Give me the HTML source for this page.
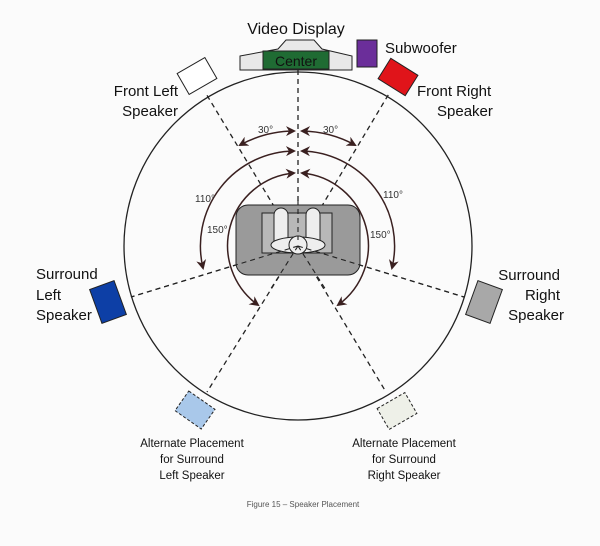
<!DOCTYPE html>
<html><head><meta charset="utf-8"><style>
body{margin:0;background:#fbfbfb;}
svg{display:block;font-family:"Liberation Sans",sans-serif;}
</style></head><body>
<svg width="600" height="546" viewBox="0 0 600 546" xmlns="http://www.w3.org/2000/svg">
<defs>
<marker id="ah" markerWidth="10" markerHeight="10" refX="8" refY="5" orient="auto" markerUnits="userSpaceOnUse"><path d="M0,0 L10,5 L0,10 L3,5 Z" fill="#3a2020"/></marker>
<marker id="as" markerWidth="10" markerHeight="10" refX="2" refY="5" orient="auto" markerUnits="userSpaceOnUse"><path d="M10,0 L0,5 L10,10 L7,5 Z" fill="#3a2020"/></marker>
</defs>
<rect width="600" height="546" fill="#fbfbfb"/>
<circle cx="298" cy="246" r="174" fill="none" stroke="#222" stroke-width="1.3"/>
<g stroke="#222" stroke-width="1.3" stroke-dasharray="5,4" fill="none">
<line x1="298" y1="246" x2="298" y2="70"/>
<line x1="298" y1="246" x2="205" y2="92"/>
<line x1="298" y1="246" x2="390" y2="92"/>
<line x1="298" y1="246" x2="131" y2="297"/>
<line x1="298" y1="246" x2="464" y2="297"/>
<line x1="298" y1="246" x2="207" y2="392"/>
<line x1="298" y1="246" x2="386" y2="392"/>
</g>
<rect x="236" y="205" width="124" height="70" rx="12" fill="#9a9a9a" stroke="#222" stroke-width="1"/>
<rect x="262" y="213" width="70" height="40" fill="#b8b8b8" stroke="#222" stroke-width="1"/>
<rect x="274" y="208" width="14" height="40" rx="7" fill="#eee" stroke="#222"/>
<rect x="306" y="208" width="14" height="40" rx="7" fill="#eee" stroke="#222"/>
<ellipse cx="298" cy="245" rx="27" ry="8" fill="#eee" stroke="#222"/>
<circle cx="298" cy="245" r="9" fill="#eee" stroke="#222"/>
<g stroke="#222" stroke-width="1.1" stroke-dasharray="5,4">
<line x1="298" y1="200" x2="298" y2="240"/>
<line x1="298" y1="246" x2="131" y2="297"/>
<line x1="298" y1="246" x2="464" y2="297"/>
<line x1="298" y1="246" x2="270" y2="290"/>
<line x1="298" y1="246" x2="326" y2="290"/>
</g>
<g fill="none" stroke="#3a2020" stroke-width="1.5">
<path d="M294,131 A115,115 0 0,0 240,145" marker-end="url(#ah)" marker-start="url(#as)"/>
<path d="M302,131 A115,115 0 0,1 355,145" marker-end="url(#ah)" marker-start="url(#as)"/>
<path d="M294,151 A95,95 0 0,0 203,268" marker-end="url(#ah)" marker-start="url(#as)"/>
<path d="M302,151 A95,95 0 0,1 392,268" marker-end="url(#ah)" marker-start="url(#as)"/>
<path d="M294,173 A73,73 0 0,0 258,305" marker-end="url(#ah)" marker-start="url(#as)"/>
<path d="M302,173 A73,73 0 0,1 338,305" marker-end="url(#ah)" marker-start="url(#as)"/>
</g>
<g font-size="10" fill="#333">
<text x="258" y="133">30°</text><text x="323" y="133">30°</text>
<text x="195" y="202">110°</text><text x="383" y="198">110°</text>
<text x="207" y="233">150°</text><text x="370" y="238">150°</text>
</g>
<path d="M240,56 L278,49 L286,40 L314,40 L322,49 L352,56 L352,70 L240,70 Z" fill="#e8e8e8" stroke="#222"/>
<rect x="263" y="51" width="66" height="18" fill="#1f6b33" stroke="#222"/>
<text x="296" y="66" font-size="14" text-anchor="middle" fill="#111">Center</text>
<text x="296" y="34" font-size="16" text-anchor="middle" fill="#111">Video Display</text>
<rect x="357" y="40" width="20" height="27" fill="#6b2e9a" stroke="#222"/>
<text x="385" y="53" font-size="15" fill="#111">Subwoofer</text>
<rect x="-16" y="-12" width="32" height="24" fill="#fff" stroke="#222" transform="translate(197,76) rotate(-30)"/>
<rect x="-16" y="-12" width="32" height="24" fill="#e0141a" stroke="#222" transform="translate(398,77) rotate(32)"/>
<rect x="-13" y="-18" width="26" height="36" fill="#0d3fa6" stroke="#222" transform="translate(108,302) rotate(-20)"/>
<rect x="-13" y="-18" width="26" height="36" fill="#a8a8a8" stroke="#222" transform="translate(484,302) rotate(20)"/>
<rect x="-16" y="-12" width="32" height="24" fill="#a9c8ea" stroke="#222" stroke-dasharray="3,2" transform="translate(195,410) rotate(35)"/>
<rect x="-16" y="-12" width="32" height="24" fill="#eef0e8" stroke="#222" stroke-dasharray="3,2" transform="translate(397,411) rotate(-30)"/>
<g font-size="15" fill="#111">
<text x="178" y="96" text-anchor="end">Front Left</text><text x="178" y="116" text-anchor="end">Speaker</text>
<text x="417" y="96">Front Right</text><text x="437" y="116">Speaker</text>
<text x="36" y="279">Surround</text><text x="36" y="300">Left</text><text x="36" y="320">Speaker</text>
<text x="560" y="280" text-anchor="end">Surround</text><text x="560" y="300" text-anchor="end">Right</text><text x="564" y="320" text-anchor="end">Speaker</text>
</g>
<g font-size="11.5" fill="#111" text-anchor="middle">
<text x="192" y="447">Alternate Placement</text><text x="192" y="463">for Surround</text><text x="192" y="479">Left Speaker</text>
<text x="404" y="447">Alternate Placement</text><text x="404" y="463">for Surround</text><text x="404" y="479">Right Speaker</text>
</g>
<text x="303" y="507" font-size="8" fill="#555" text-anchor="middle">Figure 15 – Speaker Placement</text>
</svg>
</body></html>
